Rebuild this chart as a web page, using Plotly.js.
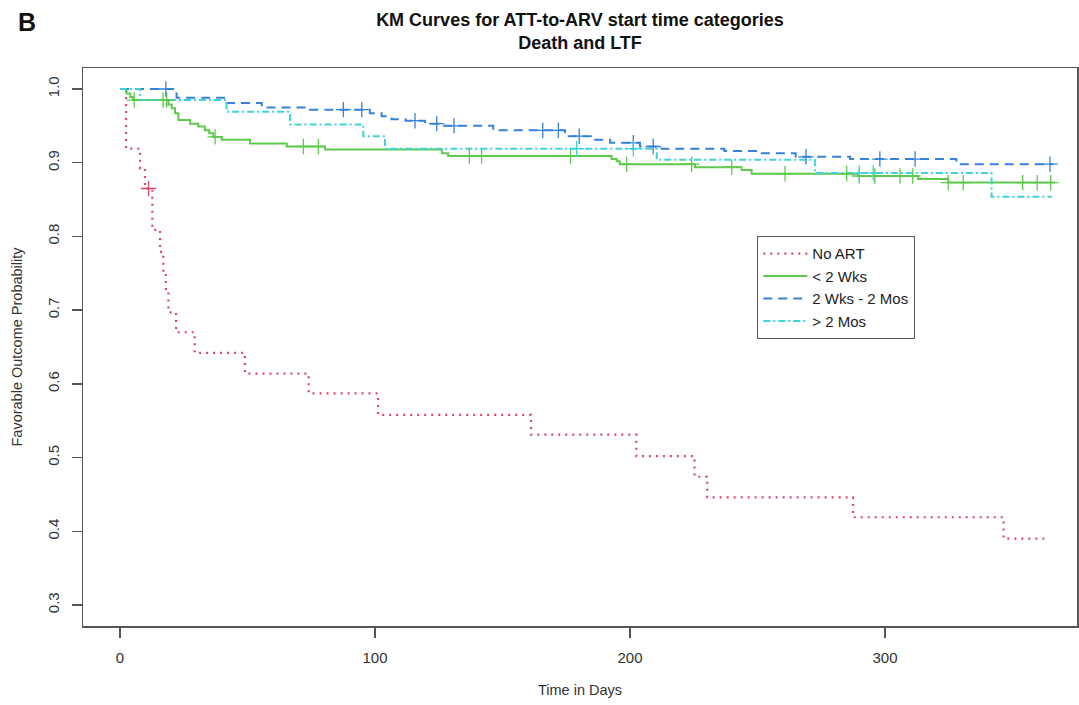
<!DOCTYPE html>
<html><head><meta charset="utf-8">
<script src="https://cdn.plot.ly/plotly-3.0.1.min.js"></script>
<style>html,body{margin:0;padding:0;background:#fff;}#chart{width:1079px;height:705px;}</style>
</head><body><div id="chart"></div>
<script>
// ---- data ----
const seriesNames = ["No ART", "< 2 Wks", "2 Wks - 2 Mos", "> 2 Mos"];

const noArtDays = [0, 2.4, 7.9, 9.8, 12.7, 15.7, 17, 18, 19, 22, 29.3, 49, 74, 101.2, 161.2, 202.5, 225.3, 230.3, 287.5, 346.5, 363.4];
const noArtSurv = [1.0, 0.919, 0.892, 0.865, 0.809, 0.779, 0.750, 0.727, 0.697, 0.670, 0.642, 0.614, 0.587, 0.558, 0.531, 0.502, 0.474, 0.446, 0.419, 0.390, 0.390];
const noArtCensor = [11.2];

const early2wDays = [0, 2.5, 4, 5, 19, 20.3, 21.6, 22.9, 27.5, 30.7, 33.3, 35, 36.6, 39.9, 51, 65.4, 80.4, 126.2, 128.7, 192.8, 194.8, 196, 225.5, 243.8, 247.7, 289.5, 313, 324.8, 366.7];
const early2wSurv = [1.0, 0.994, 0.989, 0.985, 0.979, 0.974, 0.967, 0.958, 0.953, 0.949, 0.944, 0.940, 0.935, 0.931, 0.926, 0.922, 0.918, 0.913, 0.909, 0.905, 0.902, 0.898, 0.894, 0.890, 0.885, 0.882, 0.878, 0.873, 0.873];
const early2wCensor = [5.6, 16.9, 18.3, 37.3, 71.9, 77.8, 137, 141.8, 176.7, 198.7, 224.2, 239.9, 260.8, 285, 289.9, 296, 305.9, 310.9, 324.8, 330.7, 354, 359.7, 365];

const mid2w2mDays = [0, 22.2, 41.8, 55.6, 74.5, 98, 102.6, 106.5, 112, 119.6, 127, 146.4, 174.5, 186.3, 192.2, 203.9, 212.4, 237, 250, 265, 286.3, 328, 366];
const mid2w2mSurv = [1.0, 0.988, 0.981, 0.975, 0.972, 0.967, 0.963, 0.959, 0.957, 0.953, 0.950, 0.944, 0.936, 0.931, 0.927, 0.922, 0.919, 0.916, 0.913, 0.908, 0.905, 0.898, 0.898];
const mid2w2mCensor = [18, 87.6, 94.8, 115.7, 124.2, 131, 165.8, 171.9, 180.1, 201.3, 209.1, 269, 298, 311.8, 364.7];

const late2mDays = [0, 7.8, 41.8, 66.7, 95.4, 103.9, 210.5, 272.5, 341.8, 365.4];
const late2mSurv = [1.0, 0.985, 0.969, 0.952, 0.936, 0.919, 0.904, 0.886, 0.854, 0.854];
const late2mCensor = [179.1, 201.3, 289.9, 295.4];

const xTickVals = [0, 100, 200, 300];
const yTickVals = [0.3, 0.4, 0.5, 0.6, 0.7, 0.8, 0.9, 1.0];
const yTickText = ["0.3", "0.4", "0.5", "0.6", "0.7", "0.8", "0.9", "1.0"];

// ---- styles ----
const colors = ["#DD4767", "#5EC94E", "#3682DA", "#3ED3D8"];
const dashes = ["2px,5px", "solid", "9px,6px", "7px,3px,2px,3px"];
const widths = [2.2, 2, 2, 2];

function stepAt(days, surv, t) {
  let v = surv[0];
  for (let i = 0; i < days.length; i++) { if (days[i] <= t) v = surv[i]; }
  return v;
}

const groups = [
  [noArtDays, noArtSurv, noArtCensor],
  [early2wDays, early2wSurv, early2wCensor],
  [mid2w2mDays, mid2w2mSurv, mid2w2mCensor],
  [late2mDays, late2mSurv, late2mCensor]
];

const traces = [];
groups.forEach((g, i) => {
  traces.push({
    x: g[0], y: g[1], type: "scatter", mode: "lines", name: seriesNames[i],
    line: {shape: "hv", color: colors[i], dash: dashes[i], width: widths[i]},
    legendrank: i + 1
  });
});
groups.forEach((g, i) => {
  traces.push({
    x: g[2], y: g[2].map(t => stepAt(g[0], g[1], t)), type: "scatter", mode: "markers",
    showlegend: false, name: seriesNames[i] + " (censored)",
    marker: {symbol: "cross-thin-open", size: 11, color: colors[i], line: {color: colors[i], width: 1.3}}
  });
});

const axisCommon = {
  showgrid: false, zeroline: false, showline: true, mirror: true,
  linecolor: "#555", linewidth: 1.5,
  ticks: "outside", ticklen: 10, tickwidth: 1.3, tickcolor: "#555",
  tickfont: {size: 15, color: "#333"}
};

const layout = {
  width: 1079, height: 705,
  margin: {l: 83, r: 2, t: 68, b: 79},
  paper_bgcolor: "#fff", plot_bgcolor: "#fff",
  font: {family: "Liberation Sans, Arial, Helvetica, sans-serif", color: "#222"},
  title: {
    text: "<b>KM Curves for ATT-to-ARV start time categories</b><br><b>Death and LTF</b>",
    font: {size: 18, color: "#111"},
    x: 0.5, xref: "paper", xanchor: "center",
    y: 1 - 26 / 705, yref: "container", yanchor: "top"
  },
  xaxis: Object.assign({}, axisCommon, {
    range: [-14.5, 375.3], tickvals: xTickVals, ticktext: xTickVals.map(String),
    ticklabelstandoff: 7,
    title: {text: "Time in Days", font: {size: 14.5, color: "#333"}, standoff: 20}
  }),
  yaxis: Object.assign({}, axisCommon, {
    range: [0.2715, 1.0285], tickvals: yTickVals, ticktext: yTickText, tickangle: -90,
    ticklabelstandoff: 7,
    title: {text: "Favorable Outcome Probability", font: {size: 14.5, color: "#333"}, standoff: 18}
  }),
  legend: {
    x: (757 - 83) / 994, y: (626 - 236) / 558, xanchor: "left", yanchor: "top",
    bordercolor: "#555", borderwidth: 1.3, bgcolor: "#fff",
    font: {size: 15, color: "#222"}, tracegroupgap: 0, itemwidth: 44
  },
  annotations: [{
    text: "<b>B</b>", xref: "paper", yref: "paper",
    x: (26.7 - 83) / 994, y: (626 - 22.5) / 558, xanchor: "center", yanchor: "middle",
    showarrow: false, font: {size: 25, color: "#111"}
  }],
  showlegend: true
};

Plotly.newPlot("chart", traces, layout, {displayModeBar: false, staticPlot: true});
</script>
</body></html>
